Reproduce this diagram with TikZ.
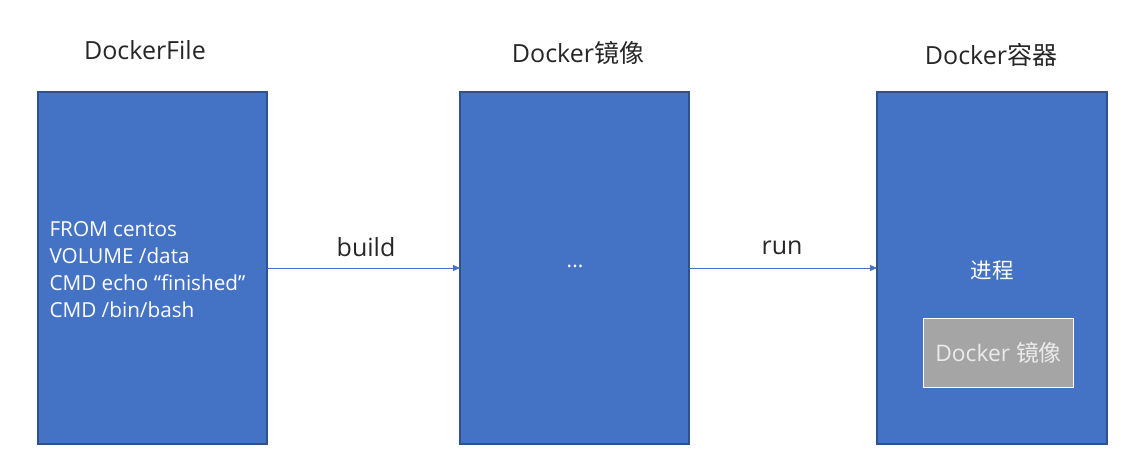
\documentclass[tikz,border=0pt]{standalone}
\usepackage{fontspec}
\setmainfont{Open Sans}
\newfontfamily\cjk{Noto Sans CJK SC}
\usetikzlibrary{arrows.meta}
\definecolor{blu}{HTML}{4472C4}
\definecolor{bluedge}{HTML}{2F528F}
\definecolor{gry}{HTML}{A5A5A5}
\begin{document}
\begin{tikzpicture}[x=1pt,y=-1pt,
  bigbox/.style={draw=bluedge,line width=1.2pt,fill=blu},
  title/.style={font=\fontsize{25}{29}\selectfont,text=black!85},
  lbl/.style={font=\fontsize{25}{29}\selectfont,text=black!85},
  intext/.style={font=\fontsize{20.7}{27}\selectfont,text=white},
  conn/.style={draw=blu,line width=0.9pt,-{Triangle[length=7pt,width=6pt]}}]
\useasboundingbox (0,0) rectangle (1147,473);
\path[bigbox] (38,92) rectangle (267,444);
\path[bigbox] (460,92) rectangle (689,444);
\path[bigbox] (877,92) rectangle (1107,444);
\coordinate (b1e) at (267,268);
\coordinate (b2w) at (460,268);
\coordinate (b2e) at (689,268);
\coordinate (b3w) at (877,268);
\node[title] (t1) at (145,50) {DockerFile};
\node[title] (t2) at (578,53) {Docker{\cjk 镜像}};
\node[title] (t3) at (991,55) {Docker{\cjk 容器}};
\node[intext,anchor=west,align=left] (code) at (46,270) {FROM centos\\VOLUME /data\\CMD echo “finished”\\CMD /bin/bash};
\node[intext] (dots) at (575,266) {...};
\node[intext,font=\fontsize{21.5}{25}\selectfont] (proc) at (992,270) {\cjk 进程};
\node[draw=white,line width=1.5pt,fill=gry,minimum width=150pt,minimum height=69pt,font=\fontsize{22.8}{26}\selectfont,text=white!92!black] (img) at (998.5,353) {Docker {\cjk 镜像}};
\draw[conn] (b1e) -- (b2w);
\draw[conn] (b2e) -- (b3w);
\node[lbl] (build) at (366,247) {build};
\node[lbl] (run) at (782,248) {run};
\end{tikzpicture}
\end{document}
